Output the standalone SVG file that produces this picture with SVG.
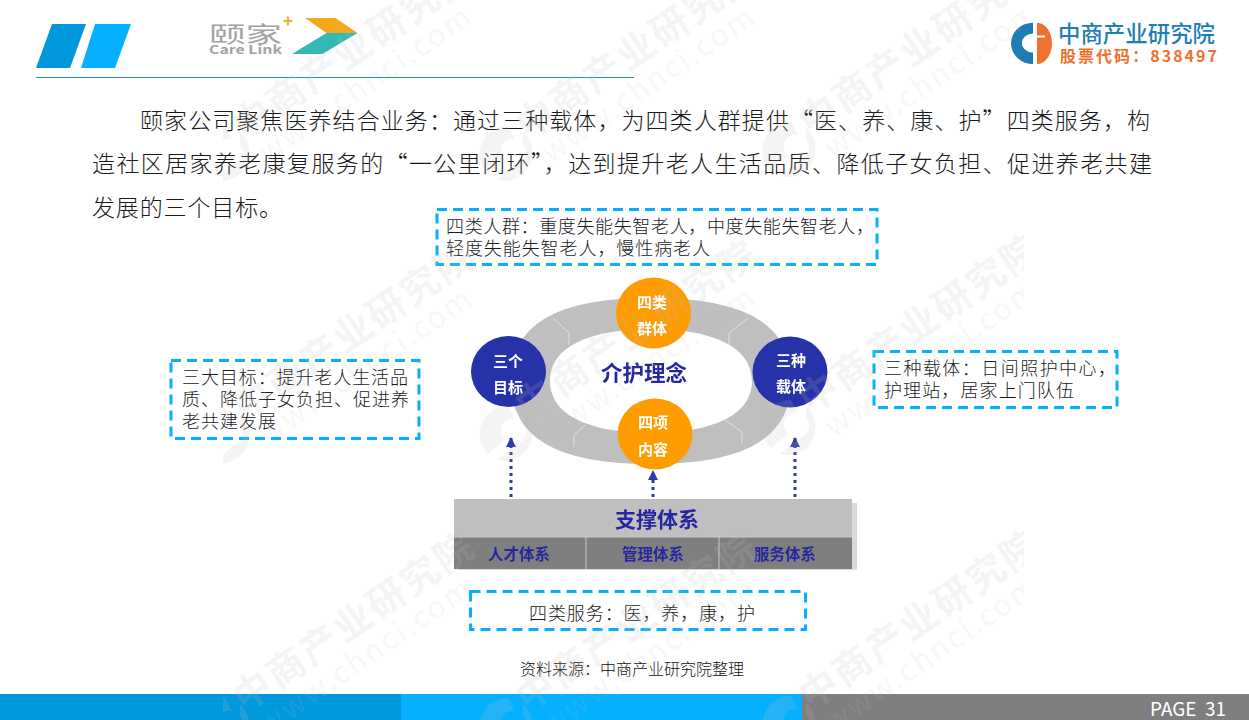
<svg xmlns="http://www.w3.org/2000/svg" width="1249" height="720" viewBox="0 0 1249 720">
<style>
text{font-family:"Noto Sans CJK SC","Liberation Sans",sans-serif}
.body{font-size:23px;fill:#1a1a1a;font-weight:300}
.note{font-size:18px;fill:#1a1a1a;font-weight:300}
.box{fill:none;stroke:#05b1ff;stroke-width:3;stroke-dasharray:10 6}
.cw{font-size:15px;font-weight:700;fill:#fff;text-anchor:middle}
.navy{fill:#26289e;font-weight:700;text-anchor:middle}
.sub{font-size:15.5px}
.dots{fill:none;stroke:#2d3aa8;stroke-width:3;stroke-dasharray:3 4;marker-end:url(#ah)}
.seam{fill:none;stroke:#e2e2e2;stroke-width:1}
.wmk{fill:#bdbdbd;opacity:.17}
</style>
<defs>
<marker id="ah" markerUnits="userSpaceOnUse" markerWidth="12" markerHeight="12" refX="10" refY="5" orient="auto"><path d="M0 0L10 5L0 10Z" fill="#2d3aa8"/></marker>
<filter id="soft" x="-5%" y="-5%" width="110%" height="110%"><feGaussianBlur stdDeviation="0.45"/></filter>
<clipPath id="wmclip"><rect x="223" y="0" width="801" height="720"/></clipPath>
<g id="wmtile">
<g transform="translate(253,404) rotate(-34.5)">
<text x="-20" y="14" font-size="38" font-weight="700" textLength="282">中商产业研究院</text>
<text x="-14" y="46" font-size="30" font-family="Liberation Sans" textLength="250" opacity=".7">www.chnci.com</text>
</g>
<path d="M225 412A28 28 0 0 0 205 460L222 446A12 12 0 0 1 232 425Z"/>
<path d="M240 418A28 28 0 0 1 214 466L233 450A12 12 0 0 0 240 430Z"/>
</g>
</defs>
<rect width="1249" height="720" fill="#fff"/>

<g id="header">
<path d="M52 24H86L70 68H36Z" fill="#0098db"/>
<path d="M95 24H131L115 68H81Z" fill="#05b1ff"/>
<line x1="36" y1="77.5" x2="634" y2="77.5" stroke="#1f8fc4" stroke-width="1"/>
</g>

<g id="carelink-logo">
<text x="209" y="42" font-size="22" fill="#a3a3a3" textLength="73" lengthAdjust="spacingAndGlyphs">颐家</text>
<text x="209" y="53.500" font-size="12" font-weight="700" fill="#a3a3a3" font-family="Liberation Sans" textLength="73" lengthAdjust="spacingAndGlyphs">Care Link</text>
<text x="288" y="27" font-size="17" font-weight="700" fill="#f5a81c" text-anchor="middle" font-family="Liberation Sans">+</text>
<path d="M305 18H335.5L357.5 33H326.5Z" fill="#f5a81c"/>
<path d="M326.5 33H357.5L322.5 54H292Z" fill="#35b8b4"/>
</g>

<g id="zhongshang-logo">
<path d="M1033 22.700A22 20.650 0 0 0 1033 64V52.500A11 9.500 0 0 1 1033 33.500Z" fill="#1f7db5"/>
<path d="M1037 22.700A15 20.650 0 0 1 1037 64V37.500H1045V35.500H1037Z" fill="#f07030"/>
<text x="1058" y="42" font-size="22.400" font-weight="500" fill="#1f7db5" textLength="157">中商产业研究院</text>
<text x="1060" y="62" font-size="16" font-weight="700" fill="#f07030" textLength="157">股票代码：838497</text>
</g>

<g id="intro">
<text class="body" x="140" y="129" textLength="1010">颐家公司聚焦医养结合业务：通过三种载体，为四类人群提供“医、养、康、护”四类服务，构</text>
<text class="body" x="92" y="172" textLength="1060">造社区居家养老康复服务的“一公里闭环”，达到提升老人生活品质、降低子女负担、促进养老共建</text>
<text class="body" x="92" y="216" textLength="190">发展的三个目标。</text>
</g>

<g id="note-people">
<rect class="box" x="437" y="209.500" width="440" height="55"/>
<text class="note" x="446" y="233" textLength="428">四类人群：重度失能失智老人，中度失能失智老人，</text>
<text class="note" x="446" y="255" textLength="264">轻度失能失智老人，慢性病老人</text>
</g>
<g id="note-goals">
<rect class="box" x="171" y="360.500" width="248" height="78"/>
<text class="note" x="182" y="384" textLength="226">三大目标：提升老人生活品</text>
<text class="note" x="182" y="406" textLength="227">质、降低子女负担、促进养</text>
<text class="note" x="182" y="428" textLength="94">老共建发展</text>
</g>
<g id="note-carriers">
<rect class="box" x="874" y="351.500" width="243" height="56"/>
<text class="note" x="884" y="375" textLength="232">三种载体：日间照护中心，</text>
<text class="note" x="884" y="397" textLength="190">护理站，居家上门队伍</text>
</g>
<g id="note-services">
<rect class="box" x="470.500" y="591.500" width="335" height="38"/>
<text class="note" x="529" y="620" textLength="226">四类服务：医，养，康，护</text>
</g>

<g filter="url(#soft)">
<g id="ring">
<path fill-rule="evenodd" fill="#bfbfbf" d="M511 381C511 325 555 298 651 298C747 298 791 325 791 381C791 437 747 464 651 464C555 464 511 437 511 381ZM550 381C550 418 596 433 651 433C706 433 752 418 752 381C752 344 706 329 651 329C596 329 550 344 550 381Z"/>
<path class="seam" d="M553 318L569 333V345M748 318L729 333V345M585 425L574 435V447M725 420L742 432V443"/>
<text class="navy" x="644" y="381" font-size="21.500">介护理念</text>
</g>
<g id="connectors">
<path class="dots" d="M511 497V437"/>
<path class="dots" d="M653 497V470"/>
<path class="dots" d="M795 497V437"/>
</g>
<g id="node-people">
<ellipse cx="653.500" cy="313" rx="37.500" ry="35.500" fill="#ff9c00"/>
<text class="cw" x="652" y="308">四类</text><text class="cw" x="652" y="334">群体</text>
</g>
<g id="node-content">
<ellipse cx="655" cy="434" rx="37.500" ry="35.500" fill="#ff9c00"/>
<text class="cw" x="653" y="428">四项</text><text class="cw" x="653" y="455">内容</text>
</g>
<g id="node-goals">
<ellipse cx="508.500" cy="371.500" rx="37.500" ry="35.500" fill="#2632a8"/>
<text class="cw" x="508" y="367">三个</text><text class="cw" x="508" y="393">目标</text>
</g>
<g id="node-carriers">
<ellipse cx="790" cy="372" rx="37.500" ry="35.500" fill="#2632a8"/>
<text class="cw" x="791" y="366">三种</text><text class="cw" x="791" y="392">载体</text>
</g>
<g id="support">
<rect x="458" y="503" width="399" height="67" fill="#d9d9d9"/>
<rect x="454" y="499" width="398" height="38" fill="#bfbfbf"/>
<rect x="454" y="537" width="398" height="32" fill="#7f7f7f"/>
<path d="M454 537H852M586 537V569M719 537V569" stroke="#c8c8c8" stroke-width="1" fill="none"/>
<text class="navy" x="657" y="527" font-size="21">支撑体系</text>
<text class="navy sub" x="519" y="560">人才体系</text>
<text class="navy sub" x="653" y="560">管理体系</text>
<text class="navy sub" x="785" y="560">服务体系</text>
</g>
</g>

<text x="632" y="675" font-size="16" font-weight="300" fill="#111" text-anchor="middle" textLength="224">资料来源：中商产业研究院整理</text>

<g id="footer">
<rect x="0" y="694" width="401" height="26" fill="#0098db"/>
<rect x="401" y="694" width="401" height="26" fill="#05b1ff"/>
<rect x="802" y="694" width="447" height="26" fill="#7f7f7f"/>
<text x="1150" y="716" font-size="19" fill="#fff" font-family="Liberation Sans" textLength="76" lengthAdjust="spacingAndGlyphs" xml:space="preserve">PAGE  31</text>
</g>

<g id="watermark" class="wmk" clip-path="url(#wmclip)">
<use href="#wmtile" x="0" y="-286"/><use href="#wmtile" x="283" y="-286"/><use href="#wmtile" x="566" y="-290"/>
<use href="#wmtile" x="0" y="-4"/><use href="#wmtile" x="283" y="-6"/><use href="#wmtile" x="566" y="-12"/>
<use href="#wmtile" x="0" y="286"/><use href="#wmtile" x="283" y="286"/><use href="#wmtile" x="566" y="284"/>
</g>
</svg>
